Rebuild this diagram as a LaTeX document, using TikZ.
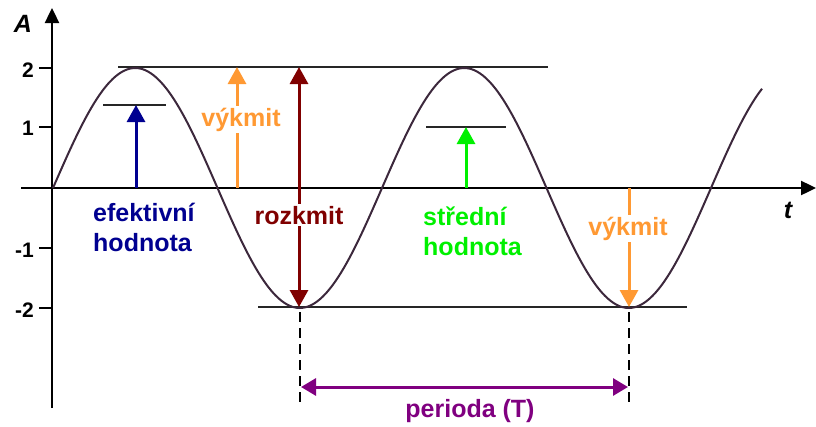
\documentclass[tikz,border=0pt]{standalone}
\usepackage{fontspec}
\setmainfont{Liberation Sans}
\usetikzlibrary{arrows.meta}
\definecolor{effblue}{HTML}{000090}
\definecolor{ampor}{HTML}{FF9933}
\definecolor{ppred}{HTML}{800000}
\definecolor{meangr}{HTML}{00F000}
\definecolor{perpur}{HTML}{800080}
\definecolor{curvec}{RGB}{60,40,60}
\begin{document}
\begin{tikzpicture}[x=1pt,y=-1pt,
  axis/.style={line width=2.4pt,-{Triangle[width=14pt,length=15pt]}},
  lvl/.style={line width=1.2pt,draw=black!85},
  arr/.style={line width=3pt,-{Triangle[width=18pt,length=17pt]}},
  darr/.style={line width=3pt,{Triangle[width=18pt,length=17pt]}-{Triangle[width=18pt,length=17pt]}},
  lab/.style={font=\fontsize{25}{29}\selectfont\bfseries,inner sep=1pt},
  cut/.style={lab,fill=white,inner sep=2pt},
  ticklab/.style={font=\fontsize{21}{24}\selectfont\bfseries,inner sep=0pt,anchor=east},
  axlab/.style={font=\fontsize{25}{28}\selectfont\bfseries\itshape,inner sep=0pt},
  tick/.style={line width=2pt},
  dsh/.style={line width=1.2pt,dash pattern=on 10pt off 6pt}]
\useasboundingbox (0,0) rectangle (816,426);

% axes
\coordinate (xs) at (21,188); \coordinate (xe) at (816,188);
\coordinate (ys) at (52,408); \coordinate (ye) at (52,8);
\draw[axis] (xs) -- (xe);
\draw[axis] (ys) -- (ye);
\node[axlab] (Alab) at (23,24) {A};
\node[axlab] (tlab) at (788,210) {t};

% ticks
\foreach \v/\yy/\ly in {2/68/70,1/127/128,-1/248/250,-2/308/310}{
  \draw[tick] (39,\yy) -- (52,\yy);
  \node[ticklab] at (34,\ly) {\v};
}

% level lines
\coordinate (topL) at (118,67); \coordinate (topR) at (548,67);
\coordinate (botL) at (258,307); \coordinate (botR) at (687,307);
\coordinate (effL) at (103,105); \coordinate (effR) at (166,105);
\coordinate (meanL) at (426,127); \coordinate (meanR) at (506,127);
\draw[lvl] (topL) -- (topR);
\draw[lvl] (botL) -- (botR);
\draw[lvl] (effL) -- (effR);
\draw[lvl] (meanL) -- (meanR);

% sine curve
\draw[curvec,line width=2pt,line join=round]
  plot[domain=0:709,samples=240,smooth] ({53+\x},{188-120*sin(1.094225*\x)});

% effective value arrow
\coordinate (effB) at (136,188); \coordinate (effT) at (136,105);
\draw[arr,effblue] (effB) -- (effT);
\node[lab,text=effblue,anchor=base west] (eff1) at (92,221) {efektivní};
\node[lab,text=effblue,anchor=base west] (eff2) at (92,251) {hodnota};

% amplitude arrow 1
\coordinate (a1B) at (237,188); \coordinate (a1T) at (237,67);
\draw[arr,ampor] (a1B) -- (a1T);
\node[cut,text=ampor,anchor=base] (a1lab) at (241,126) {výkmit};

% peak-to-peak arrow
\coordinate (ppT) at (299,67); \coordinate (ppB) at (299,307);
\draw[darr,ppred] (ppT) -- (ppB);
\node[cut,text=ppred,anchor=base] (pplab) at (299,224) {rozkmit};

% mean value arrow
\coordinate (mB) at (466,188); \coordinate (mT) at (466,127);
\draw[arr,meangr] (mB) -- (mT);
\node[lab,text=meangr,anchor=base west] (m1) at (422,225) {střední};
\node[lab,text=meangr,anchor=base west] (m2) at (422,255) {hodnota};

% amplitude arrow 2
\coordinate (a2T) at (629,188); \coordinate (a2B) at (629,307);
\draw[arr,ampor] (a2T) -- (a2B);
\node[cut,text=ampor,anchor=base] (a2lab) at (628,235) {výkmit};

% period
\coordinate (d1T) at (300,312); \coordinate (d1B) at (300,402);
\coordinate (d2T) at (629,312); \coordinate (d2B) at (629,402);
\draw[dsh] (d1T) -- (d1B);
\draw[dsh] (d2T) -- (d2B);
\coordinate (pL) at (301,387); \coordinate (pR) at (628,387);
\draw[perpur,line width=3pt,{Triangle[width=17pt,length=15pt]}-{Triangle[width=17pt,length=15pt]}] (pL) -- (pR);
\node[lab,text=perpur,anchor=base] (perlab) at (470,417) {perioda (T)};
\end{tikzpicture}
\end{document}
